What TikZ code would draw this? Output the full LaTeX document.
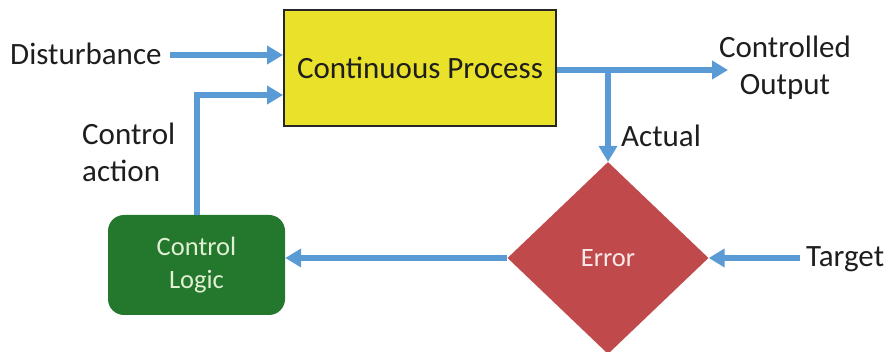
\documentclass[tikz,border=0pt]{standalone}
\usepackage{fontspec}
\setmainfont{Carlito}
\usetikzlibrary{arrows.meta,shapes.geometric}
\definecolor{flowblue}{RGB}{91,155,213}
\definecolor{procyellow}{RGB}{233,225,42}
\definecolor{logicgreen}{RGB}{35,120,45}
\definecolor{errred}{RGB}{192,73,75}
\definecolor{txtgray}{RGB}{30,30,30}
\tikzset{
  arr/.style={draw=flowblue, line width=6pt, -{Triangle[length=16pt,width=18pt]}},
  lbl/.style={font=\fontsize{31}{37}\selectfont, text=txtgray, inner sep=4pt},
  inner/.style={font=\fontsize{26.5}{35}\selectfont, align=center}
}
\begin{document}
\begin{tikzpicture}[x=1pt,y=-1pt]
\useasboundingbox (0,0) rectangle (891,352);
\node[draw=black!85, line width=2pt, fill=procyellow, minimum width=272pt, minimum height=116pt,
  font=\fontsize{31}{35}\selectfont, text=txtgray] (proc) at (420,68) {Continuous Process};
\node[fill=logicgreen, rounded corners=16pt, minimum width=177pt, minimum height=100pt,
  inner, text={rgb,255:red,225;green,240;blue,210}] (logic) at (196.5,265) {Control\\[-2pt]Logic};
\node[diamond, fill=errred, minimum width=201pt, minimum height=192pt, inner sep=0pt,
  inner, text={rgb,255:red,250;green,235;blue,235}] (err) at (608,258) {Error};
\node[lbl, anchor=west, inner sep=0pt] (dist) at (10,54) {Disturbance};
\node[lbl, anchor=west, align=left, inner sep=0pt] (cact) at (82,152) {Control\\action};
\node[lbl, align=center, inner sep=0pt] (outl) at (785,68) {Controlled\\Output};
\node[lbl, anchor=west, inner sep=0pt] (act) at (621,136) {Actual};
\node[lbl, anchor=west, inner sep=0pt] (tgt) at (806,259) {Target};
\coordinate (split) at (608,70);
\coordinate (outend) at (728,70);
\draw[arr] ([xshift=8pt]dist.east |- 0,55) -- (proc.west |- 0,55);
\draw[arr] (logic.north) |- (proc.west |- 0,95);
\draw[arr] (proc.east |- split) -- (outend);
\draw[arr] (split) -- (err.north);
\draw[arr] (err.west) -- (logic.east |- err.west);
\draw[arr] ([xshift=-6pt]tgt.west |- err.east) -- (err.east);
\end{tikzpicture}
\end{document}
